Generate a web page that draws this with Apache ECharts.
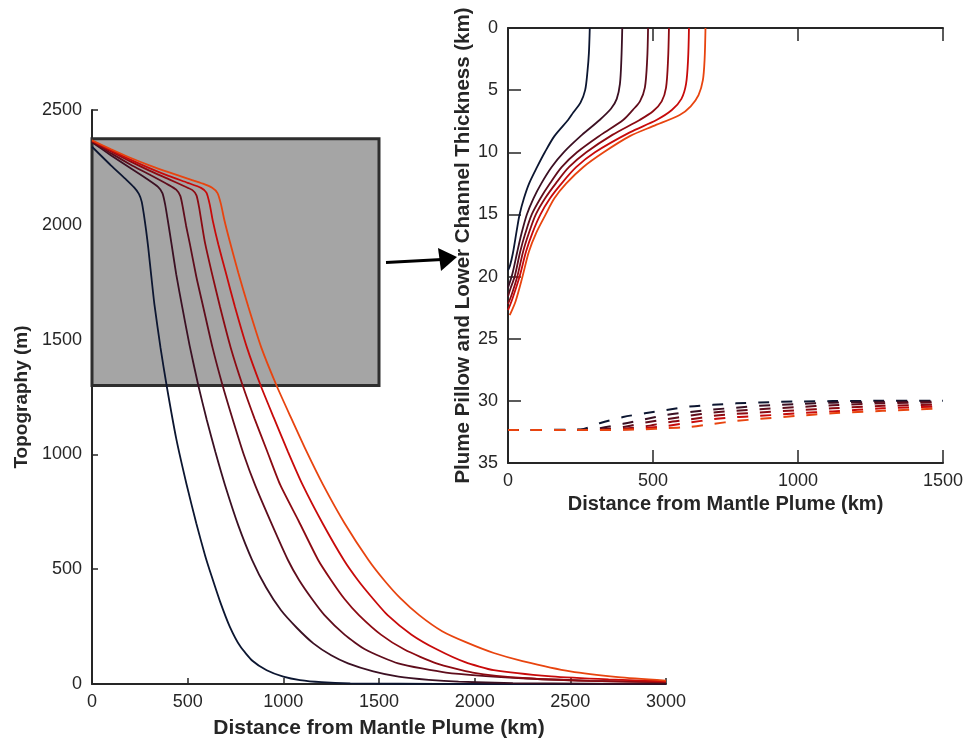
<!DOCTYPE html>
<html>
<head>
<meta charset="utf-8">
<script src="https://cdn.jsdelivr.net/npm/echarts@6/dist/echarts.min.js"></script>
<style>
  html, body { margin: 0; padding: 0; background: #fff; }
  #main { width: 965px; height: 744px; }
</style>
</head>
<body>
<div id="main"></div>
<script>
// line colours, darkest (navy) to brightest (orange)
const lineColors = ['#0c1631', '#3b1023', '#5f0d1c', '#8c0a12', '#c80a0a', '#e8440f'];

// main panel: topography (m) vs distance from plume (km)
const topo1 = [[0,2340],[100,2258],[180,2196],[220,2163],[245,2135],[260,2100],[272,2040],[283,1975],[294,1900],[310,1775],[326,1655],[358,1465],[390,1300],[440,1070],[495,867],[545,700],[591,560],[625,470],[669,360],[720,250],[774,165],[840,100],[913,60],[1000,32],[1087,17],[1200,8],[1350,3],[1600,1],[2000,0],[3000,0]];
const topo2 = [[0,2360],[100,2302],[200,2247],[290,2198],[345,2165],[368,2138],[382,2090],[396,2020],[416,1915],[440,1785],[472,1640],[510,1475],[556,1299],[600,1150],[645,1010],[695,867],[765,690],[837,540],[910,420],[987,322],[1070,245],[1157,177],[1250,125],[1338,90],[1470,55],[1602,32],[1760,18],[1916,10],[2200,4],[2600,1.5],[3000,0.5]];
const topo3 = [[0,2362],[100,2311],[200,2263],[300,2219],[400,2174],[440,2153],[462,2125],[476,2070],[492,1995],[512,1915],[545,1775],[582,1640],[630,1465],[683,1299],[740,1140],[795,995],[852,867],[935,705],[1024,540],[1082,453],[1150,370],[1215,300],[1320,215],[1429,150],[1600,90],[1850,50],[2250,25],[2600,14],[3000,7]];
const topo4 = [[0,2364],[100,2319],[200,2276],[300,2236],[400,2199],[480,2169],[525,2151],[546,2128],[560,2075],[575,1998],[591,1920],[625,1795],[669,1643],[725,1465],[788,1299],[850,1155],[915,1015],[984,867],[1080,710],[1182,540],[1249,453],[1320,370],[1395,300],[1510,215],[1633,150],[1800,90],[1990,50],[2270,25],[2600,14],[3000,8]];
const topo5 = [[0,2366],[100,2324],[200,2284],[300,2247],[400,2213],[500,2183],[570,2161],[598,2140],[615,2090],[632,2015],[660,1915],[700,1790],[747,1643],[810,1465],[882,1299],[950,1160],[1025,1010],[1101,867],[1205,700],[1316,540],[1389,453],[1460,380],[1545,300],[1670,215],[1804,150],[1950,95],[2100,60],[2400,33],[2700,20],[3000,12]];
const topo6 = [[0,2368],[100,2329],[200,2292],[300,2259],[400,2229],[500,2201],[580,2179],[628,2161],[656,2138],[674,2090],[692,2020],[721,1925],[765,1790],[817,1643],[885,1465],[965,1299],[1040,1160],[1120,1015],[1208,867],[1320,700],[1445,540],[1526,453],[1610,375],[1710,300],[1830,230],[1960,180],[2100,135],[2250,100],[2500,55],[2750,30],[3000,15]];

// inset: plume pillow thickness, [distance km, depth km]
const pillow1 = [[282,0],[279,2],[274,3.5],[266,5],[250,6],[225,6.8],[207,7.4],[160,8.7],[127,10],[100,11.2],[73,12.5],[55,13.7],[40,15],[30,16.3],[17,18.1],[7,19.1],[0,19.5]];
const pillow2 = [[394,0],[391,2.5],[386,4.5],[375,5.7],[355,6.5],[316,7.4],[255,8.6],[192,10],[150,11.2],[115,12.5],[88,13.7],[65,15],[47,16.5],[32,18],[15,19.8],[0,20.9]];
const pillow3 = [[483,0],[480,2.5],[472,4.8],[455,5.9],[430,6.6],[397,7.4],[320,8.6],[238,10],[185,11.2],[145,12.5],[112,13.7],[82,15],[60,16.5],[42,18],[23,20],[8,21],[0,21.6]];
const pillow4 = [[555,0],[552,2.5],[545,4.8],[530,5.9],[500,6.7],[454,7.4],[360,8.6],[270,10],[210,11.2],[165,12.5],[128,13.7],[96,15],[72,16.5],[52,18],[32,20],[12,21.5],[0,22.2]];
const pillow5 = [[624,0],[621,2.5],[614,4.5],[598,5.7],[565,6.6],[512,7.4],[420,8.4],[300,10],[235,11.2],[185,12.5],[145,13.7],[112,15],[84,16.5],[62,18],[40,20],[15,21.8],[0,22.7]];
const pillow6 = [[681,0],[678,2.5],[672,4.2],[657,5.4],[630,6.3],[592,7.0],[500,7.9],[420,8.7],[330,10],[259,11.2],[201,12.5],[160,13.7],[130,15],[97,16.5],[72,18],[50,20],[26,22],[6,23.1]];

// inset: lower channel (dashed), depth km at each distance
const channelX = [0, 250, 316, 397, 472, 546, 626, 707, 787, 867, 1000, 1119, 1292, 1500];
const channel1 = [32.35, 32.3, 31.8, 31.3, 31.0, 30.73, 30.46, 30.32, 30.2, 30.13, 30.05, 30.02, 30.0, 30.0];
const channel2 = [32.35, 32.33, 32.2, 31.85, 31.48, 31.13, 30.9, 30.7, 30.55, 30.4, 30.25, 30.15, 30.08, 30.05];
const channel3 = [32.35, 32.34, 32.3, 32.1, 31.75, 31.48, 31.2, 30.94, 30.8, 30.67, 30.5, 30.35, 30.2, 30.12];
const channel4 = [32.35, 32.35, 32.33, 32.25, 32.05, 31.75, 31.5, 31.21, 31.05, 30.94, 30.75, 30.6, 30.4, 30.3];
const channel5 = [32.35, 32.35, 32.35, 32.3, 32.2, 32.02, 31.75, 31.48, 31.3, 31.21, 31.0, 30.85, 30.6, 30.45];
const channel6 = [32.35, 32.35, 32.35, 32.33, 32.28, 32.2, 32.1, 31.85, 31.62, 31.45, 31.2, 31.0, 30.8, 30.6];

// grey zoom box on the main panel (data units)
const boxX = [0, 1500];
const boxY = [1300, 2375];

const topoSets = [topo1, topo2, topo3, topo4, topo5, topo6];
const pillowSets = [pillow1, pillow2, pillow3, pillow4, pillow5, pillow6];
const channelSets = [channel1, channel2, channel3, channel4, channel5, channel6];

const txt = '#262626';
const font = 'Liberation Sans, Arial, sans-serif';

var chart = echarts.init(document.getElementById('main'), null, { renderer: 'canvas' });

var series = [];
topoSets.forEach(function (d, i) {
  var s = {
    type: 'line', xAxisIndex: 0, yAxisIndex: 0,
    data: d, showSymbol: false, symbol: 'none',
    smooth: 0.2,
    lineStyle: { color: lineColors[i], width: 1.8 },
    z: 3
  };
  if (i === 0) {
    s.markArea = {
      silent: true,
      itemStyle: { color: '#a5a5a5', borderColor: '#2e2e2e', borderWidth: 3 },
      data: [[{ coord: [boxX[0], boxY[1]] }, { coord: [boxX[1], boxY[0]] }]]
    };
  }
  series.push(s);
});
pillowSets.forEach(function (d, i) {
  series.push({
    type: 'line', xAxisIndex: 1, yAxisIndex: 1,
    data: d, showSymbol: false, symbol: 'none',
    smooth: 0.3,
    lineStyle: { color: lineColors[i], width: 1.8 }
  });
});
channelSets.forEach(function (d, i) {
  series.push({
    type: 'line', xAxisIndex: 1, yAxisIndex: 1,
    data: channelX.map(function (x, k) { return [x, d[k]]; }),
    showSymbol: false, symbol: 'none',
    smooth: 0.3,
    lineStyle: { color: lineColors[i], width: 2, type: [11, 12] }
  });
});

var plain = function (v) { return String(v); };
var labelStyle = { fontSize: 18, color: txt, fontFamily: font, formatter: plain };
var nameStyle = { fontWeight: 'bold', color: txt, fontFamily: font };
var lineSt = { color: txt, width: 2 };

var option = {
  animation: false,
  backgroundColor: '#fff',
  grid: [
    { left: 92, top: 110, width: 574, height: 574, outerBoundsMode: 'none' },
    { left: 508, top: 28, width: 435, height: 435, outerBoundsMode: 'none' }
  ],
  xAxis: [
    {
      type: 'value', gridIndex: 0, min: 0, max: 3000, interval: 500,
      axisLine: { show: true, onZero: false, lineStyle: lineSt },
      axisTick: { show: true, inside: true, length: 6, lineStyle: { color: txt, width: 1.5 } },
      axisLabel: Object.assign({ margin: 9 }, labelStyle),
      splitLine: { show: false },
      name: 'Distance from Mantle Plume (km)', nameLocation: 'middle', nameGap: 34,
      nameTextStyle: Object.assign({ fontSize: 21 }, nameStyle)
    },
    {
      type: 'value', gridIndex: 1, min: 0, max: 1500, interval: 500, position: 'bottom',
      axisLine: { show: true, onZero: false, lineStyle: lineSt },
      axisTick: { show: true, inside: true, length: 13, lineStyle: { color: txt, width: 1.5 } },
      axisLabel: Object.assign({ margin: 9 }, labelStyle),
      splitLine: { show: false },
      name: 'Distance from Mantle Plume (km)', nameLocation: 'middle', nameGap: 24,
      nameTextStyle: Object.assign({ fontSize: 20 }, nameStyle)
    },
    {
      type: 'value', gridIndex: 1, min: 0, max: 1500, interval: 500, position: 'top',
      axisLine: { show: true, onZero: false, lineStyle: lineSt },
      axisTick: { show: true, inside: true, length: 13, lineStyle: { color: txt, width: 1.5 } },
      axisLabel: { show: false },
      splitLine: { show: false }
    }
  ],
  yAxis: [
    {
      type: 'value', gridIndex: 0, min: 0, max: 2500, interval: 500,
      axisLine: { show: true, onZero: false, lineStyle: lineSt },
      axisTick: { show: true, inside: true, length: 6, lineStyle: { color: txt, width: 1.5 } },
      axisLabel: Object.assign({ margin: 10 }, labelStyle),
      splitLine: { show: false },
      name: 'Topography (m)', nameLocation: 'middle', nameGap: 60,
      nameTextStyle: Object.assign({ fontSize: 19 }, nameStyle)
    },
    {
      type: 'value', gridIndex: 1, min: 0, max: 35, interval: 5, inverse: true,
      axisLine: { show: true, onZero: false, lineStyle: lineSt },
      axisTick: { show: true, inside: true, length: 13, lineStyle: { color: txt, width: 1.5 } },
      axisLabel: Object.assign({ margin: 10 }, labelStyle),
      splitLine: { show: false },
      name: 'Plume Pillow and Lower Channel Thickness (km)', nameLocation: 'middle', nameGap: 28,
      nameTextStyle: Object.assign({ fontSize: 20.5 }, nameStyle)
    }
  ],
  graphic: [
    { type: 'line', shape: { x1: 386, y1: 262.5, x2: 442, y2: 259.5 }, style: { stroke: '#000', lineWidth: 3 }, z: 10 },
    { type: 'polygon', shape: { points: [[438, 248], [457, 257], [441, 271]] }, style: { fill: '#000' }, z: 10 }
  ],
  series: series
};

chart.setOption(option);
</script>
</body>
</html>
